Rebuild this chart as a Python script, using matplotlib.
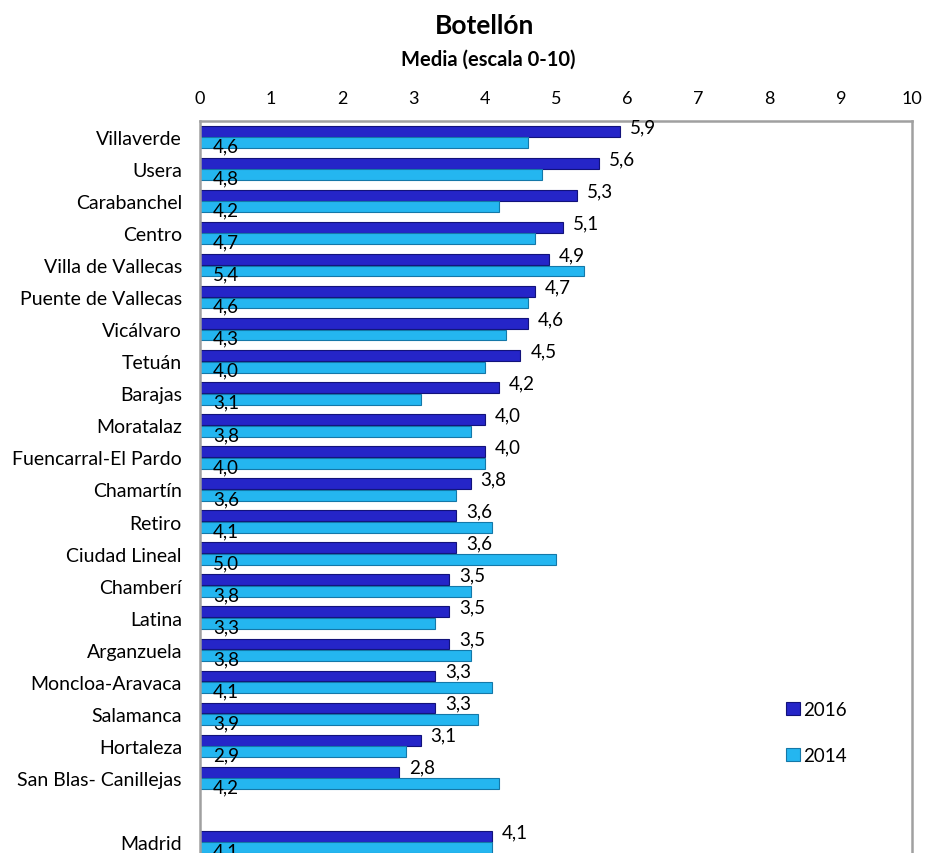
import numpy as np
import matplotlib
matplotlib.use('Agg')
import matplotlib.pyplot as plt

plt.rcParams['font.family'] = ['Lato', 'DejaVu Sans']

# Data
districts = ['Villaverde', 'Usera', 'Carabanchel', 'Centro', 'Villa de Vallecas',
             'Puente de Vallecas', 'Vicálvaro', 'Tetuán', 'Barajas', 'Moratalaz',
             'Fuencarral-El Pardo', 'Chamartín', 'Retiro', 'Ciudad Lineal', 'Chamberí',
             'Latina', 'Arganzuela', 'Moncloa-Aravaca', 'Salamanca', 'Hortaleza',
             'San Blas- Canillejas', '', 'Madrid']
v2016 = [5.9, 5.6, 5.3, 5.1, 4.9, 4.7, 4.6, 4.5, 4.2, 4.0, 4.0, 3.8, 3.6, 3.6,
         3.5, 3.5, 3.5, 3.3, 3.3, 3.1, 2.8, np.nan, 4.1]
v2014 = [4.6, 4.8, 4.2, 4.7, 5.4, 4.6, 4.3, 4.0, 3.1, 3.8, 4.0, 3.6, 4.1, 5.0,
         3.8, 3.3, 3.8, 4.1, 3.9, 2.9, 4.2, np.nan, 4.1]
xticks = list(range(0, 11))

c2016 = '#2525c8'
c2014 = '#24b6f0'

fig = plt.figure(figsize=(9.28, 8.54), dpi=100)
ax = fig.add_axes([200 / 928, 1 - 859 / 854, 712 / 928, 737 / 854])

y = np.arange(len(districts))
h = 0.34
ax.barh(y - 0.18, v2016, height=h, color=c2016, edgecolor='#12127a', linewidth=0.8, label='2016')
ax.barh(y + 0.18, v2014, height=h, color=c2014, edgecolor='#1478a8', linewidth=0.8, label='2014')

for i in range(len(districts)):
    if not np.isnan(v2016[i]):
        ax.text(v2016[i] + 0.14, y[i] - 0.33, f'{v2016[i]:.1f}'.replace('.', ','),
                ha='left', va='center', fontsize=13.5)
    if not np.isnan(v2014[i]):
        ax.text(0.18, y[i] + 0.28, f'{v2014[i]:.1f}'.replace('.', ','),
                ha='left', va='center', fontsize=13.5)

ax.set_xlim(0, 10)
ax.set_ylim(len(districts) - 0.5, -0.5)
ax.set_yticks(y)
ax.set_yticklabels(districts, fontsize=14)
ax.set_xticks(xticks)
ax.xaxis.tick_top()
ax.tick_params(axis='x', length=0, pad=11, labelsize=13)
ax.tick_params(axis='y', length=0, pad=13)
for s in ax.spines.values():
    s.set_color('#a0a0a0')
    s.set_linewidth(1.8)

fig.text(0.522, 1 - 26 / 854, 'Botellón', ha='center', va='center', fontsize=19, fontweight='bold')
fig.text(0.526, 1 - 60 / 854, 'Media (escala 0-10)', ha='center', va='center', fontsize=14.5, fontweight='bold')

ax.legend(loc='center left', bbox_to_anchor=(0.8, 0.17), frameon=False, fontsize=13.5,
          handlelength=0.7, handleheight=0.7, handletextpad=0.2, labelspacing=1.55)

plt.savefig('out.png', dpi=100)
